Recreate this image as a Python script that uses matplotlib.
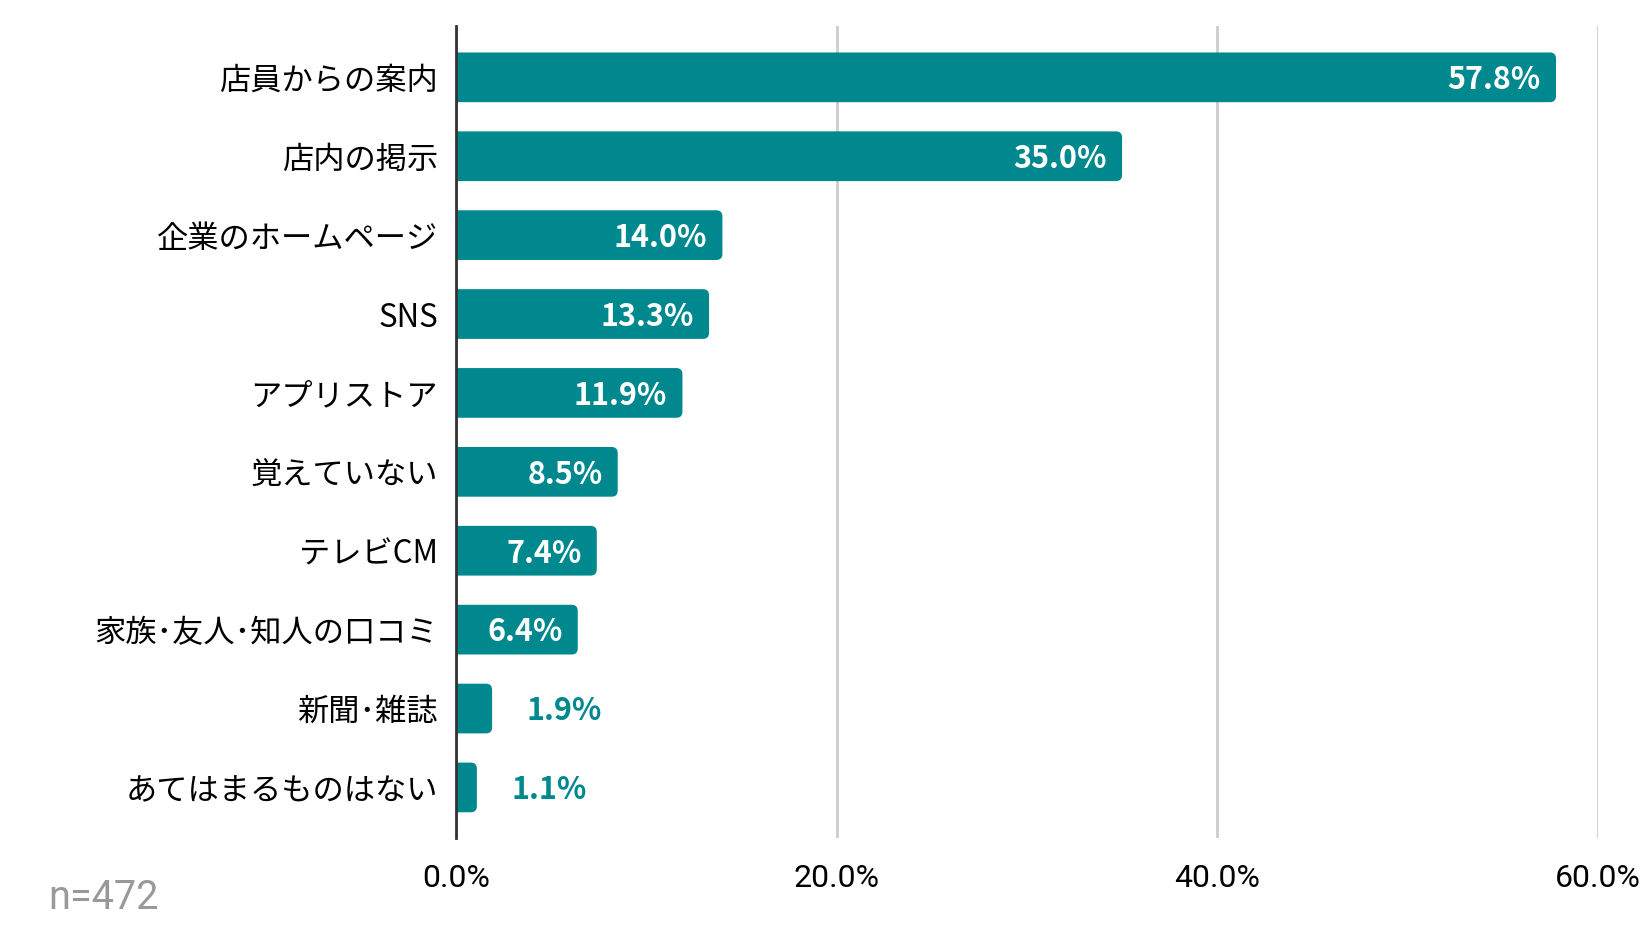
import matplotlib
matplotlib.use("Agg")
from matplotlib import pyplot as plt
from matplotlib.patches import FancyBboxPatch
from matplotlib.ticker import FuncFormatter

# Survey: where did you learn about it (n=472)
categories = [
    "店員からの案内",
    "店内の掲示",
    "企業のホームページ",
    "SNS",
    "アプリストア",
    "覚えていない",
    "テレビCM",
    "家族･友人･知人の口コミ",
    "新聞･雑誌",
    "あてはまるものはない",
]
values = [57.8, 35.0, 14.0, 13.3, 11.9, 8.5, 7.4, 6.4, 1.9, 1.1]
xticks = [0, 20, 40, 60]
note = "n=472"

TEAL = "#00888F"

plt.rcParams["font.family"] = ["Noto Sans CJK JP", "DejaVu Sans"]

fig = plt.figure(figsize=(16.49, 9.30), dpi=100)
ax = fig.add_axes([0.2765, 0.099, 0.6925, 0.873])

ypos = list(range(len(categories)))
bars = ax.barh(ypos, values, height=0.63, color=TEAL, zorder=3)

# swap the plain bars for ones with rounded right corners
r = 0.32
for b in bars:
    x0, y0, w, h = b.get_x(), b.get_y(), b.get_width(), b.get_height()
    b.set_visible(False)
    ax.add_patch(FancyBboxPatch((x0 - r, y0), w + r, h,
                                boxstyle=f"round,pad=0,rounding_size={r}",
                                mutation_aspect=0.24, facecolor=TEAL,
                                edgecolor="none", zorder=3))

ax.set_xlim(0, 60)
ax.set_ylim(len(categories) - 0.36, -0.65)
ax.set_yticks(ypos)
ax.set_yticklabels(categories, fontsize=22.5)
ax.set_xticks(xticks)
ax.xaxis.set_major_formatter(FuncFormatter(lambda v, _: f"{v:.1f}%"))
for lab in ax.get_xticklabels():
    lab.set_family(["Roboto", "DejaVu Sans"])
    lab.set_fontsize(23)
ax.tick_params(axis="y", length=0, pad=13)
ax.tick_params(axis="x", length=0, pad=19)

ax.grid(axis="x", color="#cccccc", linewidth=2, zorder=0)
for side in ["top", "right", "bottom"]:
    ax.spines[side].set_visible(False)
ax.spines["left"].set_color("#333333")
ax.spines["left"].set_linewidth(2)
ax.spines["left"].set_zorder(4)

for y, v in zip(ypos, values):
    inside = v >= 5
    ax.annotate(f"{v:.1f}%", (v, y), xytext=(-11 if inside else 25, -2),
                textcoords="offset points", ha="right" if inside else "left",
                va="center", color="white" if inside else TEAL, fontsize=22,
                fontweight="bold", family=["Noto Sans CJK JP", "DejaVu Sans"],
                zorder=5)

fig.text(0.029, 0.035, note, color="#999999", fontsize=28.5,
         family=["Roboto", "DejaVu Sans"], ha="left", va="center")

fig.savefig("out.png", dpi=100)
